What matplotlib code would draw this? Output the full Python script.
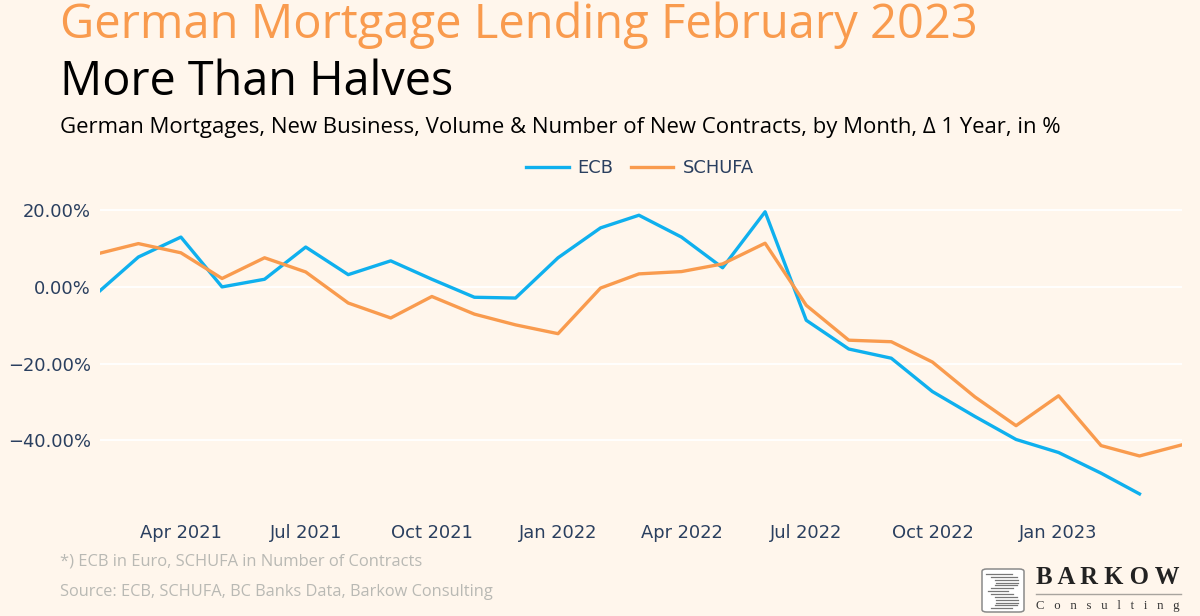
import matplotlib
matplotlib.use("Agg")
import matplotlib.pyplot as plt
import pandas as pd
from matplotlib.patches import FancyBboxPatch
from matplotlib.lines import Line2D

months = pd.date_range("2021-02-01", "2023-03-01", freq="MS")
ecb = [-1, 7.8, 13, 0, 2, 10.4, 3.2, 6.8, 2, -2.7, -2.9, 7.6, 15.4, 18.7, 13, 5, 19.6, -8.7, -16.2, -18.6, -27.3, -33.8, -39.8, -43.2, -48.6, -54]
schufa_months = pd.date_range("2021-02-01", "2023-04-01", freq="MS")
schufa = [8.8, 11.3, 8.9, 2.2, 7.6, 3.9, -4.2, -8.1, -2.5, -7.1, -9.9, -12.2, -0.3, 3.4, 4, 6, 11.4, -4.8, -13.9, -14.3, -19.6, -28.7, -36.2, -28.4, -41.4, -44.1, -41.2]
yticks = [-40, -20, 0, 20]
ytick_labels = ["−40.00%", "−20.00%", "0.00%", "20.00%"]
xticks = ["2021-04-01", "2021-07-01", "2021-10-01", "2022-01-01", "2022-04-01", "2022-07-01", "2022-10-01", "2023-01-01"]
xtick_labels = ["Apr 2021", "Jul 2021", "Oct 2021", "Jan 2022", "Apr 2022", "Jul 2022", "Oct 2022", "Jan 2023"]
logo_stripes = [(0, 30), (6, 36), (10, 38), (12, 38), (10, 36), (6, 32), (2, 26), (6, 32), (10, 36), (12, 38), (12, 38), (10, 36), (6, 30)]

BG = "#FFF6EC"; BLUE = "#0FB0EE"; ORANGE = "#F99B4E"; INK = "#2A3F5F"; GREY = "#B9B9B4"

plt.rcParams["font.family"] = ["Open Sans", "DejaVu Sans"]

fig = plt.figure(figsize=(12, 6.16), dpi=100, facecolor=BG)
ax = fig.add_axes([100/1200, 1-510/616, 1082/1200, 317/616], facecolor=BG)
ax.plot(months, ecb, color=BLUE, lw=2.4, label="ECB", solid_joinstyle="round")
ax.plot(schufa_months, schufa, color=ORANGE, lw=2.4, label="SCHUFA", solid_joinstyle="round")
ax.set_xlim(pd.Timestamp("2021-02-01"), pd.Timestamp("2023-04-01"))
ax.set_ylim(-58.2, 24.5)
ax.set_yticks(yticks); ax.set_yticklabels(ytick_labels)
ax.set_xticks(pd.to_datetime(xticks)); ax.set_xticklabels(xtick_labels)
ax.grid(axis="y", color="white", lw=1.3); ax.set_axisbelow(True)
ax.tick_params(length=0, labelsize=12.9, labelcolor=INK, labelfontfamily="DejaVu Sans")
ax.tick_params(axis="y", pad=6.5)
ax.tick_params(axis="x", pad=10)
for s in ax.spines.values():
    s.set_visible(False)
leg = ax.legend(loc="center", bbox_to_anchor=(640/1200, 1-168/616), bbox_transform=fig.transFigure, ncols=2,
                frameon=False, labelcolor=INK, handlelength=2.35, columnspacing=1.0, handletextpad=0.5,
                prop={"family": "DejaVu Sans", "size": 12.9})

fig.text(60/1200, 1-25/616, "German Mortgage Lending February 2023", fontsize=33.9, color=ORANGE, va="center")
fig.text(60/1200, 1-82/616, "More Than Halves", fontsize=33.7, color="black", va="center")
fig.text(60/1200, 1-127/616, "German Mortgages, New Business, Volume & Number of New Contracts, by Month, Δ 1 Year, in %", fontsize=15.95, color="black", va="center")
fig.text(60/1200, 1-561/616, "*) ECB in Euro, SCHUFA in Number of Contracts", fontsize=11.85, color=GREY, va="center")
fig.text(60/1200, 1-592/616, "Source: ECB, SCHUFA, BC Banks Data, Barkow Consulting", fontsize=11.8, color=GREY, va="center")

fig.add_artist(FancyBboxPatch((982/1200, 1-612/616), 42/1200, 43/616, boxstyle="round,pad=0,rounding_size=0.004",
                              transform=fig.transFigure, fc="white", ec="#8A8A8A", lw=1.1))
for i, (a, b) in enumerate(logo_stripes):
    y = 1 - (574 + i * 2.85) / 616
    fig.add_artist(Line2D([(986 + a * 0.85) / 1200, (986 + b * 0.85) / 1200], [y, y], transform=fig.transFigure, color="#777777", lw=0.9))
fig.add_artist(Line2D([1036/1200, 1181/1200], [1-594/616, 1-594/616], transform=fig.transFigure, color="#A8A49E", lw=1))
fig.text(1036/1200, 1-578/616, "B A R K O W", fontsize=17.8, color="#222222", family="Liberation Serif", weight="bold", va="center")
fig.text(1036/1200, 1-606/616, "C   o   n   s   u   l   t   i   n   g", fontsize=9.2, color="#333333", family="Liberation Serif", va="center")
fig.savefig("out.png", dpi=100, facecolor=BG)
